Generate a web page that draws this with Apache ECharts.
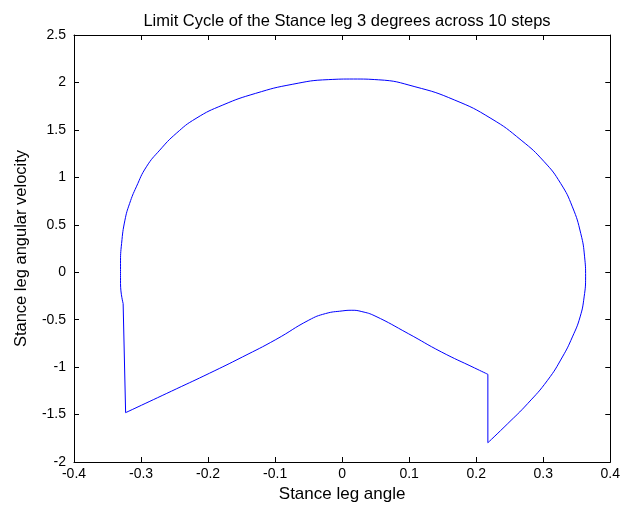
<!DOCTYPE html>
<html>
<head>
<meta charset="utf-8">
<script src="https://cdn.jsdelivr.net/npm/echarts@6/dist/echarts.min.js"></script>
<style>
html,body{margin:0;padding:0;background:#fff;}
#chart{width:623px;height:509px;}
</style>
</head>
<body>
<div id="chart"></div>
<script>
// Stance leg angle (x) / angular velocity (y)
// Big swing arc: from post-impact point round the right, over the top, down the left
const arcX = [0.2174, 0.247, 0.2767, 0.3064, 0.3286, 0.3435, 0.355, 0.361, 0.3632, 0.3617, 0.356, 0.3435, 0.326, 0.3015, 0.267, 0.222, 0.168, 0.1086, 0.054, 0.017, -0.020, -0.0745, -0.129, -0.178, -0.218, -0.2475, -0.272, -0.292, -0.307, -0.317, -0.324, -0.329, -0.3306, -0.3306, -0.3267];
const arcY = [-1.797, -1.596, -1.385, -1.139, -0.893, -0.682, -0.471, -0.26, -0.049, 0.162, 0.408, 0.689, 0.936, 1.164, 1.392, 1.621, 1.814, 1.955, 2.028, 2.036, 2.030, 1.98, 1.885, 1.762, 1.621, 1.463, 1.287, 1.111, 0.90, 0.725, 0.549, 0.303, 0.092, -0.119, -0.330];
// Left jump segment
const leftX = [-0.3267, -0.3252, -0.323];
const leftY = [-0.330, -0.335, -1.48];
// Lower path with bump
const lowX = [-0.323, -0.2475, -0.198, -0.1487, -0.099, -0.0497, -0.0249, 0.0, 0.0145, 0.0294, 0.049, 0.0987, 0.148, 0.1976, 0.2174];
const lowY = [-1.48, -1.23, -1.065, -0.893, -0.71, -0.505, -0.436, -0.408, -0.401, -0.415, -0.461, -0.647, -0.840, -1.009, -1.076];
// Right jump segment
const rightX = [0.2174, 0.2174];
const rightY = [-1.076, -1.797];

const xTicks = [-0.4, -0.3, -0.2, -0.1, 0, 0.1, 0.2, 0.3, 0.4];
const yTicks = [-2, -1.5, -1, -0.5, 0, 0.5, 1, 1.5, 2, 2.5];

const zip = (xs, ys) => xs.map((x, i) => [x, ys[i]]);
const fontFamily = 'Liberation Sans, Arial, sans-serif';
const fmt = v => String(+(+v).toFixed(2));
const lineColor = '#0000ff';

const baseAxis = {
  axisLine: {show: true, onZero: false, lineStyle: {color: '#000', width: 1}},
  axisTick: {show: true, inside: true, length: 5, lineStyle: {color: '#000'}},
  splitLine: {show: false}
};

const chart = echarts.init(document.getElementById('chart'), null, {renderer: 'canvas'});
chart.setOption({
  animation: false,
  backgroundColor: '#fff',
  title: {
    text: 'Limit Cycle of the Stance leg 3 degrees across 10 steps',
    left: 342, top: 8, textAlign: 'center',
    textStyle: {fontFamily, fontSize: 16.5, fontWeight: 'normal', color: '#000'}
  },
  grid: {left: 74, right: 10, top: 35, bottom: 47, containLabel: false},
  xAxis: [
    Object.assign({}, baseAxis, {
      type: 'value', position: 'bottom', min: xTicks[0], max: xTicks[xTicks.length - 1], interval: 0.1,
      name: 'Stance leg angle', nameLocation: 'middle', nameGap: 24,
      nameTextStyle: {fontFamily, fontSize: 17, color: '#000'},
      axisLabel: {show: true, margin: 5, formatter: fmt, fontFamily, fontSize: 14, color: '#000'}
    }),
    Object.assign({}, baseAxis, {
      type: 'value', position: 'top', min: xTicks[0], max: xTicks[xTicks.length - 1], interval: 0.1,
      axisLabel: {show: false}
    })
  ],
  yAxis: [
    Object.assign({}, baseAxis, {
      type: 'value', position: 'left', min: yTicks[0], max: yTicks[yTicks.length - 1], interval: 0.5,
      name: 'Stance leg angular velocity', nameLocation: 'middle', nameGap: 44, nameRotate: 90,
      nameTextStyle: {fontFamily, fontSize: 16.5, color: '#000'},
      axisLabel: {show: true, margin: 8, formatter: fmt, fontFamily, fontSize: 14, color: '#000'}
    }),
    Object.assign({}, baseAxis, {
      type: 'value', position: 'right', min: yTicks[0], max: yTicks[yTicks.length - 1], interval: 0.5,
      axisLabel: {show: false}
    })
  ],
  series: [
    {type: 'line', data: zip(arcX, arcY), smooth: 0.5, showSymbol: false, lineStyle: {color: lineColor, width: 1}, silent: true},
    {type: 'line', data: zip(leftX, leftY), smooth: false, showSymbol: false, lineStyle: {color: lineColor, width: 1}, silent: true},
    {type: 'line', data: zip(lowX, lowY), smooth: 0.5, showSymbol: false, lineStyle: {color: lineColor, width: 1}, silent: true},
    {type: 'line', data: zip(rightX, rightY), smooth: false, showSymbol: false, lineStyle: {color: lineColor, width: 1}, silent: true}
  ]
});
</script>
</body>
</html>
